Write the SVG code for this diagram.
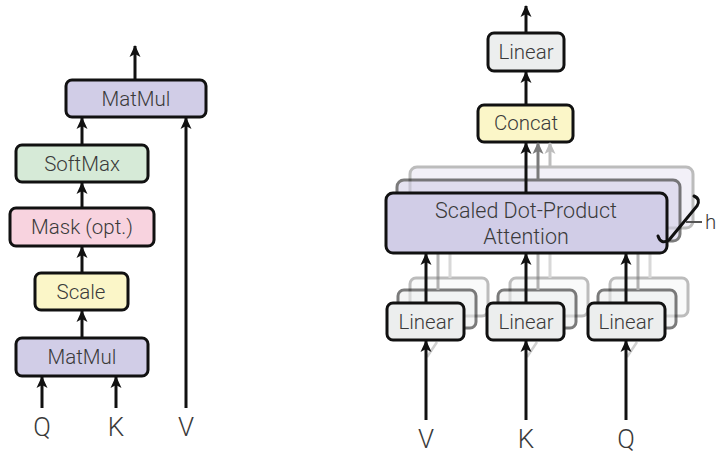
<svg xmlns="http://www.w3.org/2000/svg" width="718" height="455" viewBox="0 0 718 455">
  <defs>
    <marker id="arrowK" markerUnits="userSpaceOnUse" markerWidth="12" markerHeight="12" viewBox="0 0 12 12" refX="11" refY="6" orient="auto">
      <path d="M0,0.5 L12,6 L0,11.5 L3,6 z" fill="#111"/>
    </marker>
    <marker id="arrowG" markerUnits="userSpaceOnUse" markerWidth="12" markerHeight="12" viewBox="0 0 12 12" refX="11" refY="6" orient="auto">
      <path d="M0,0.5 L12,6 L0,11.5 L3,6 z" fill="#7a7a7a"/>
    </marker>
    <marker id="arrowL" markerUnits="userSpaceOnUse" markerWidth="12" markerHeight="12" viewBox="0 0 12 12" refX="11" refY="6" orient="auto">
      <path d="M0,0.5 L12,6 L0,11.5 L3,6 z" fill="#bdbdbd"/>
    </marker>
  </defs>
  <style>
    .box { stroke: #111; stroke-width: 3; }
    .purple { fill: #d1cde7; }
    .green { fill: #d6ead7; }
    .pink { fill: #f8d3df; }
    .yellow { fill: #fbf6c8; }
    .grey { fill: #eceeee; }
    .lbl { font-family: Roboto, "Liberation Sans", Arial, sans-serif; font-weight: 300; font-size: 20.5px; fill: #3a3a3a; text-anchor: middle; }
    .big { font-family: Roboto, "Liberation Sans", Arial, sans-serif; font-weight: 300; font-size: 26px; fill: #3a3a3a; text-anchor: middle; }
    .wire { stroke: #111; stroke-width: 3; fill: none; marker-end: url(#arrowK); }
    .wireG { stroke: #7a7a7a; stroke-width: 3; fill: none; marker-end: url(#arrowG); }
    .wireL { stroke: #bdbdbd; stroke-width: 3; fill: none; marker-end: url(#arrowL); }
    .ghostline { stroke: #777; stroke-width: 3; fill: none; }
    .copy2 { opacity: 0.55; }
    .copy3 { opacity: 0.28; }
  </style>

  <!-- Scaled Dot-Product Attention (left) -->
  <g id="sdpa-matmul-top">
    <rect class="box purple" x="66" y="80" width="140" height="37" rx="6"/>
    <text class="lbl" x="136" y="106">MatMul</text>
  </g>
  <g id="sdpa-softmax">
    <rect class="box green" x="16" y="145" width="132" height="37" rx="6"/>
    <text class="lbl" x="82" y="171">SoftMax</text>
  </g>
  <g id="sdpa-mask">
    <rect class="box pink" x="10" y="208" width="144" height="38" rx="6"/>
    <text class="lbl" x="82" y="234">Mask (opt.)</text>
  </g>
  <g id="sdpa-scale">
    <rect class="box yellow" x="35" y="273" width="93" height="37" rx="6"/>
    <text class="lbl" x="81" y="299">Scale</text>
  </g>
  <g id="sdpa-matmul-bottom">
    <rect class="box purple" x="16" y="338" width="132" height="38" rx="6"/>
    <text class="lbl" x="82" y="364">MatMul</text>
  </g>
  <g id="sdpa-inputs">
    <text class="big" x="42" y="436">Q</text>
    <text class="big" x="116" y="436">K</text>
    <text class="big" x="186" y="436">V</text>
  </g>

  <!-- Multi-Head Attention (right): faded copies behind the front layer -->
  <g id="mha-copies">
    <g class="copy3">
      <rect class="box purple" x="410" y="167" width="283" height="61" rx="7"/>
      <rect class="box grey" x="410" y="278" width="78" height="38" rx="6"/>
      <rect class="box grey" x="510" y="278" width="78" height="38" rx="6"/>
      <rect class="box grey" x="610" y="278" width="78" height="38" rx="6"/>
      <line class="ghostline" x1="450" y1="278" x2="450" y2="228"/>
      <line class="ghostline" x1="550" y1="278" x2="550" y2="228"/>
      <line class="ghostline" x1="650" y1="278" x2="650" y2="228"/>
    </g>
    <g class="copy2">
      <rect class="box purple" x="397" y="180" width="283" height="61" rx="7"/>
      <rect class="box grey" x="398" y="290" width="78" height="38" rx="6"/>
      <rect class="box grey" x="498" y="290" width="78" height="38" rx="6"/>
      <rect class="box grey" x="598" y="290" width="78" height="38" rx="6"/>
      <line class="ghostline" x1="438" y1="290" x2="438" y2="241"/>
      <line class="ghostline" x1="538" y1="290" x2="538" y2="241"/>
      <line class="ghostline" x1="638" y1="290" x2="638" y2="241"/>
    </g>
    <g opacity="0.3" stroke="#666" stroke-width="2.5">
      <line x1="427" y1="357" x2="437" y2="342"/>
      <line x1="527" y1="357" x2="537" y2="342"/>
      <line x1="627" y1="357" x2="637" y2="342"/>
    </g>
  </g>

  <g id="mha-linear-out">
    <rect class="box grey" x="488" y="33" width="76" height="38" rx="6"/>
    <text class="lbl" x="526" y="59">Linear</text>
  </g>
  <g id="mha-concat">
    <rect class="box yellow" x="478" y="105" width="95" height="37" rx="6"/>
    <text class="lbl" x="526" y="130">Concat</text>
  </g>
  <g id="mha-attention">
    <rect class="box purple" x="386" y="193" width="281" height="60" rx="7"/>
    <text class="lbl" x="526" y="218" style="font-size:21.5px">Scaled Dot-Product</text>
    <text class="lbl" x="526" y="244" style="font-size:21.5px">Attention</text>
  </g>
  <g id="mha-linear-v">
    <rect class="box grey" x="387" y="303" width="77" height="37" rx="6"/>
    <text class="lbl" x="426" y="329">Linear</text>
  </g>
  <g id="mha-linear-k">
    <rect class="box grey" x="487" y="303" width="77" height="37" rx="6"/>
    <text class="lbl" x="526" y="329">Linear</text>
  </g>
  <g id="mha-linear-q">
    <rect class="box grey" x="588" y="303" width="77" height="37" rx="6"/>
    <text class="lbl" x="626" y="329">Linear</text>
  </g>
  <g id="mha-heads">
    <path d="M658,236 Q661,245 669,240 L697,206 Q701,199 694,196" fill="none" stroke="#111" stroke-width="3" stroke-linecap="round"/>
    <line x1="686" y1="222" x2="702" y2="222" stroke="#555" stroke-width="2"/>
    <text class="lbl" x="705" y="229" style="text-anchor:start">h</text>
  </g>
  <g id="mha-inputs">
    <text class="big" x="426" y="448">V</text>
    <text class="big" x="526" y="448">K</text>
    <text class="big" x="626" y="448">Q</text>
  </g>

  <g id="connectors">
    <!-- left -->
    <line class="wire" x1="135" y1="80" x2="135" y2="46"/>
    <line class="wire" x1="82" y1="145" x2="82" y2="118"/>
    <line class="wire" x1="82" y1="208" x2="82" y2="183"/>
    <line class="wire" x1="82" y1="273" x2="82" y2="247"/>
    <line class="wire" x1="82" y1="338" x2="82" y2="311"/>
    <line class="wire" x1="42" y1="408" x2="42" y2="377"/>
    <line class="wire" x1="116" y1="408" x2="116" y2="377"/>
    <line class="wire" x1="186" y1="408" x2="186" y2="118"/>
    <!-- right -->
    <line class="wire" x1="526" y1="33" x2="526" y2="6"/>
    <line class="wire" x1="526" y1="105" x2="526" y2="72"/>
    <line class="wireL" x1="550" y1="167" x2="550" y2="143"/>
    <line class="wireG" x1="538" y1="180" x2="538" y2="143"/>
    <line class="wire" x1="526" y1="193" x2="526" y2="143"/>
    <line class="wire" x1="426" y1="303" x2="426" y2="254"/>
    <line class="wire" x1="526" y1="303" x2="526" y2="254"/>
    <line class="wire" x1="626" y1="303" x2="626" y2="254"/>
    <line class="wire" x1="426" y1="420" x2="426" y2="341"/>
    <line class="wire" x1="526" y1="420" x2="526" y2="341"/>
    <line class="wire" x1="626" y1="420" x2="626" y2="341"/>
  </g>
</svg>
